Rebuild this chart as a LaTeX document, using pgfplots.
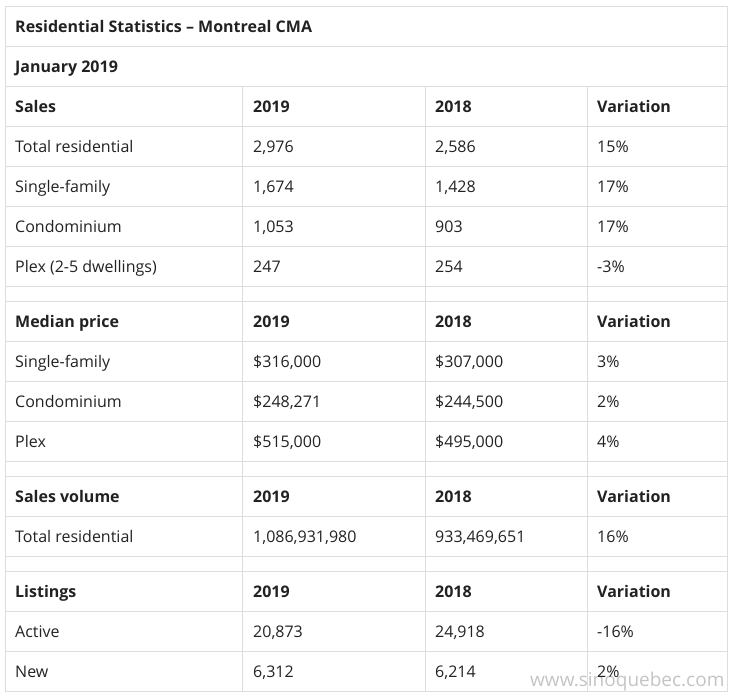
\documentclass[border=0pt]{standalone}
\usepackage{pgfplots}
\pgfplotsset{compat=1.18}
\usepackage{fontspec}
\setmainfont{Open Sans}
\definecolor{gridc}{HTML}{DDDDDD}
\definecolor{txt}{HTML}{222222}
\definecolor{wm}{HTML}{C4C4C4}
\begin{document}
\begin{tikzpicture}
\useasboundingbox (0,0) rectangle (733pt,697pt);
\begin{axis}[
  at={(0,0)}, anchor=south west,
  scale only axis, width=733pt, height=697pt,
  xmin=0, xmax=733, ymin=0, ymax=697, y dir=reverse,
  axis lines=none, ticks=none, clip=false,
  every axis plot/.append style={line cap=rect},
]
% horizontal rules
\pgfplotsinvokeforeach{6,46,86,126,166,206,246,286,301,341,381,421,461,476,516,556,571,611,651,691}{
  \addplot[gridc, line width=1pt, mark=none] coordinates {(5,#1) (727,#1)};
}
% outer verticals
\pgfplotsinvokeforeach{5,727}{
  \addplot[gridc, line width=1pt, mark=none] coordinates {(#1,6) (#1,691)};
}
% inner verticals
\pgfplotsinvokeforeach{242,425,587}{
  \addplot[gridc, line width=1pt, mark=none] coordinates {(#1,86) (#1,691)};
}
% watermark
\addplot[draw=none, mark=none, nodes near coords, point meta=explicit symbolic,
  nodes near coords style={anchor=base west, inner sep=0pt, text=wm, font=\fontsize{19}{23}\selectfont}]
  table[col sep=semicolon, row sep=\\, meta=t] {x;y;t\\ 530;686;www.sinoquebec.com\\};
% bold text
\addplot[draw=none, mark=none, nodes near coords, point meta=explicit symbolic,
  nodes near coords style={anchor=base west, inner sep=0pt, text=txt, font=\fontsize{16}{19}\bfseries\selectfont}]
  table[col sep=semicolon, row sep=\\, meta=t] {
x;y;t\\
15;32;Residential Statistics – Montreal CMA\\
15;72;January 2019\\
15;112;Sales\\
253;112;2019\\
435;112;2018\\
597;112;Variation\\
15;327;Median price\\
253;327;2019\\
435;327;2018\\
597;327;Variation\\
15;502;Sales volume\\
253;502;2019\\
435;502;2018\\
597;502;Variation\\
15;597;Listings\\
253;597;2019\\
435;597;2018\\
597;597;Variation\\
};
% regular text
\addplot[draw=none, mark=none, nodes near coords, point meta=explicit symbolic,
  nodes near coords style={anchor=base west, inner sep=0pt, text=txt, font=\fontsize{16}{19}\selectfont}]
  table[col sep=semicolon, row sep=\\, meta=t] {
x;y;t\\
15;152;Total residential\\
253;152;2,976\\
435;152;2,586\\
597;152;15\%\\
15;192;Single-family\\
253;192;1,674\\
435;192;1,428\\
597;192;17\%\\
15;232;Condominium\\
253;232;1,053\\
435;232;903\\
597;232;17\%\\
15;272;Plex (2-5 dwellings)\\
253;272;247\\
435;272;254\\
597;272;-3\%\\
15;367;Single-family\\
253;367;\$316,000\\
435;367;\$307,000\\
597;367;3\%\\
15;407;Condominium\\
253;407;\$248,271\\
435;407;\$244,500\\
597;407;2\%\\
15;447;Plex\\
253;447;\$515,000\\
435;447;\$495,000\\
597;447;4\%\\
15;542;Total residential\\
253;542;1,086,931,980\\
435;542;933,469,651\\
597;542;16\%\\
15;637;Active\\
253;637;20,873\\
435;637;24,918\\
597;637;-16\%\\
15;677;New\\
253;677;6,312\\
435;677;6,214\\
597;677;2\%\\
};
\end{axis}
\end{tikzpicture}
\end{document}
